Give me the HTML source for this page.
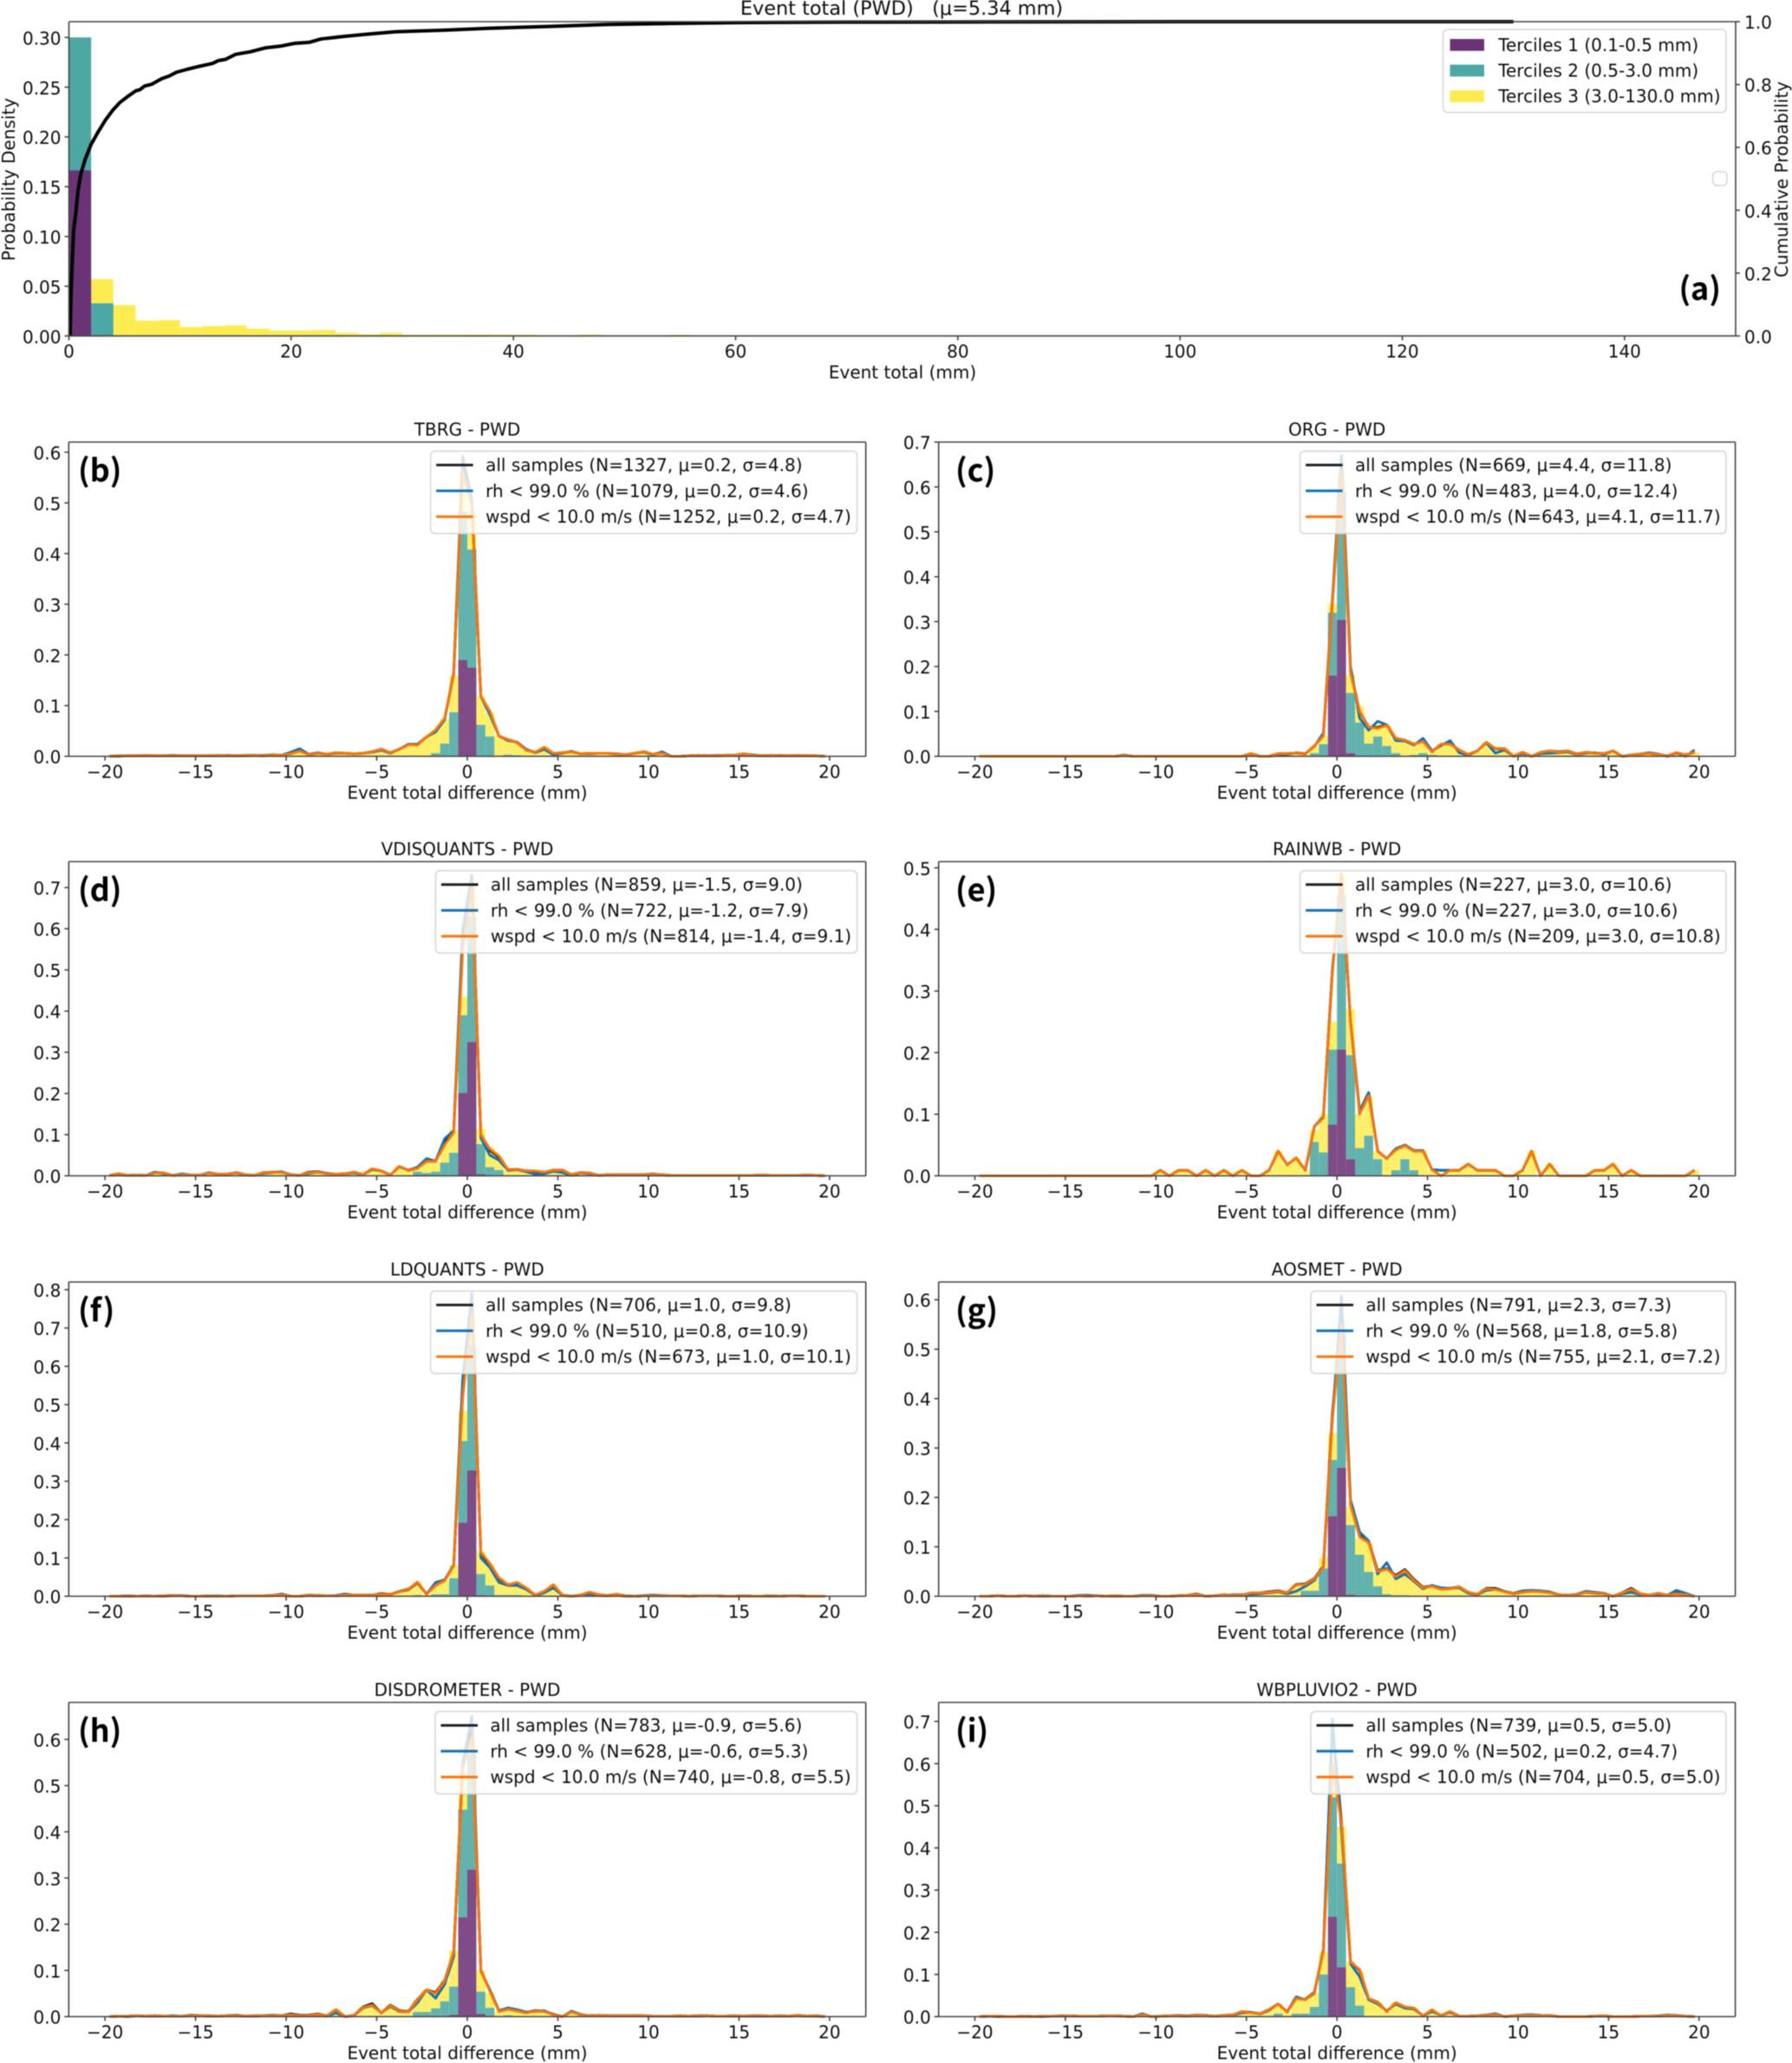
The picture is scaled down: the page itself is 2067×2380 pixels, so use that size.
<!DOCTYPE html>
<html>
<head>
<meta charset="utf-8">
<title>Event total distributions</title>
<style>
html,body{margin:0;padding:0;background:#fff;}
svg{display:block;filter:blur(0.45px);}
text{font-family:"DejaVu Sans","Liberation Sans",sans-serif;fill:#0d0d0d;}
.tag{font-family:"Noto Sans CJK JP","Liberation Sans",sans-serif;font-weight:700;fill:#000;}
</style>
</head>
<body>
<svg id="chart" xmlns="http://www.w3.org/2000/svg" width="2067" height="2380" viewBox="0 0 2067 2380"></svg>
<script>
// ---------- panel (a) data ----------
const eventBinEdgeStart = 0;
const eventBinWidth = 2;
const eventT1 = [.1664,0];
const eventT2 = [.1336,.0328];
const eventT3 = [0,.0244,.031,.0154,.016,.009,.010,.0107,.0073,.0055,.0055,.006,.0032,.002,.0032,.0014,.0014,.0014,.0016,.0014,.0014,.0007,.0007,.0014,.0005,.0005,.0005,.0012];
const cdfTotals = [.1,.2,.42,.61,.82,1.08,1.47,1.99,2.64,3.29,3.94,4.59,5.37,6.02,6.41,6.8,7.46,8.37,9.02,9.67,10.7,11.75,12.92,13.44,14.09,15,16.3,17.73,19.03,20.3,21.6,22.7,24.76,26.8,29.4,33.9,37.8,40.6,42.6,48.4,54,60,70,80,100,130];
const cdfProbs = [0,.15,.334,.389,.462,.517,.563,.609,.65,.687,.718,.743,.764,.78,.784,.795,.801,.819,.827,.839,.849,.858,.867,.876,.88,.896,.904,.917,.922,.931,.934,.945,.953,.96,.968,.973,.979,.982,.984,.991,.994,.997,.9985,.999,1,1];
const eventXTicks = [0,20,40,60,80,100,120,140];
const eventYTicks = ["0.00","0.05","0.10","0.15","0.20","0.25","0.30"];
const cdfYTicks = ["0.0","0.2","0.4","0.6","0.8","1.0"];
const tercileLabels = ["Terciles 1 (0.1-0.5 mm)","Terciles 2 (0.5-3.0 mm)","Terciles 3 (3.0-130.0 mm)"];

// ---------- difference panels: shared axis values ----------
const diffXTicks = [-20,-15,-10,-5,0,5,10,15,20];

// ---------- (b) TBRG ----------
const tbrgAll = [0,.001,.001,.001,.002,.001,.001,.001,.001,.001,
.001,.001,.002,.001,.001,.002,.002,.001,.003,.002,
.006,.012,.003,.006,.004,.007,.006,.005,.006,.009,
.014,.007,.014,.023,.023,.038,.050,.074,.162,.575,
.498,.118,.087,.040,.033,.027,.013,.008,.017,.005,
.007,.009,.005,.006,.006,.006,.004,.003,.006,.009,
.004,.007,0,0,.001,.002,.001,.001,.002,.002,
.005,.002,.001,.002,.001,.001,.002,.001,.001,0];
const tbrgRh = [0,0,.001,.001,.001,.001,.001,.002,.001,.001,
.001,.001,.001,.002,.001,.001,.002,.002,.003,.002,
.008,.015,.004,.007,.004,.006,.006,.005,.006,.008,
.012,.006,.014,.024,.024,.038,.048,.072,.165,.592,
.505,.118,.082,.040,.031,.028,.014,.007,.014,.003,
.006,.010,.005,.005,.006,.006,.005,.003,.006,.008,
.003,.009,0,0,.001,.001,.001,.002,.002,.002,
.004,.003,.001,.001,.002,.001,.001,.001,.001,0];
const tbrgWspd = [0,.001,.001,.001,.002,.001,.001,.001,.001,.001,
.001,.001,.002,.001,.001,.002,.002,.001,.003,.002,
.005,.010,.003,.006,.004,.007,.006,.005,.006,.009,
.014,.007,.014,.023,.022,.038,.052,.075,.160,.563,
.495,.118,.089,.040,.033,.027,.012,.008,.018,.006,
.007,.009,.005,.006,.006,.006,.004,.003,.006,.009,
.004,.006,0,0,.001,.002,.001,.001,.002,.002,
.005,.002,.001,.002,.001,.001,.002,.001,.001,0];
const tbrgT1 = [0,0,0,0,0,0,0,0,0,.190,.175,0,0,0,0,0,0,0,0,0,0,0,0,0];
const tbrgT2 = [0,0,0,0,.001,0,.006,.025,.087,.293,.233,.062,.039,0,.003,.002,0,0,0,0,0,0,0,0];
const tbrgT3 = [0,.001,.001,.001,.002,.001,.001,.001,.001,.001,
.001,.001,.002,.001,.001,.002,.002,.001,.003,.002,
.005,.010,.003,.006,.004,.007,.006,.005,.006,.009,
.014,.007,.014,.023,.021,.038,.046,.048,.072,.077,
.078,.056,.047,.040,.032,.025,.012,.008,.018,.006,
.007,.009,.005,.006,.006,.006,.004,.003,.006,.009,
.004,.006,0,0,.001,.002,.001,.001,.002,.002,
.005,.002,.001,.002,.001,.001,.002,.001,.001,0];
const tbrgYTicks = ["0.0","0.1","0.2","0.3","0.4","0.5","0.6"];
const tbrgLegend = ["all samples (N=1327, μ=0.2, σ=4.8)","rh < 99.0 % (N=1079, μ=0.2, σ=4.6)","wspd < 10.0 m/s (N=1252, μ=0.2, σ=4.7)"];

// ---------- (c) ORG ----------
const orgAll = [0,0,0,0,0,0,0,0,0,0,
0,0,0,0,0,0,.002,0,0,0,
0,0,0,0,0,0,0,0,0,0,
.006,0,0,.006,.006,.007,.005,.023,.046,.345,
.650,.190,.100,.065,.064,.070,.040,.036,.027,.034,
.010,.027,.028,.014,.004,.012,.031,.017,.017,0,
.009,0,.009,.012,.010,.012,.005,.009,.007,.006,
.012,0,.003,.005,.006,.004,.001,.008,.003,.009];
const orgRh = [0,0,0,0,0,0,0,0,0,0,
0,0,0,0,0,0,.003,0,0,0,
0,0,0,0,0,0,0,0,0,0,
.005,0,0,.003,.004,.008,.006,.022,.052,.350,
.670,.200,.085,.058,.078,.070,.035,.034,.025,.040,
.012,.024,.035,.008,.002,.012,.030,.007,.014,0,
.006,0,.006,.007,.008,.010,.003,.007,.008,.004,
.012,0,.002,.005,.008,.005,0,.007,0,.014];
const orgWspd = [0,0,0,0,0,0,0,0,0,0,
0,0,0,0,0,0,.002,0,0,0,
0,0,0,0,0,0,0,0,0,0,
.006,0,0,.006,.006,.007,.005,.023,.046,.340,
.635,.185,.100,.065,.062,.069,.040,.036,.027,.033,
.010,.027,.027,.014,.004,.012,.031,.017,.017,0,
.009,0,.009,.012,.009,.012,.004,.009,.006,.006,
.012,0,.003,.005,.006,.004,.001,.008,.003,.009];
const orgT1 = [0,0,0,0,0,0,0,0,0,.180,.304,.007,0,0,0,0,0,0,0,0,0,0,0,0];
const orgT2 = [0,0,0,0,0,0,.001,.007,.027,.140,.286,.134,.075,.028,.044,.023,.007,0,.003,.007,.003,0,0,0];
const orgT3 = [0,0,0,0,0,0,0,0,0,0,
0,0,0,0,0,0,.002,0,0,0,
0,0,0,0,0,0,0,0,0,0,
.006,0,0,.006,.006,.007,.004,.016,.019,.020,
.038,.041,.036,.037,.028,.046,.033,.036,.024,.026,
.007,.027,.027,.014,.004,.012,.031,.017,.017,0,
.009,0,.009,.012,.009,.012,.004,.009,.006,.006,
.012,0,.003,.005,.006,.004,.001,.008,.003,.009];
const orgYTicks = ["0.0","0.1","0.2","0.3","0.4","0.5","0.6","0.7"];
const orgLegend = ["all samples (N=669, μ=4.4, σ=11.8)","rh < 99.0 % (N=483, μ=4.0, σ=12.4)","wspd < 10.0 m/s (N=643, μ=4.1, σ=11.7)"];

// ---------- (d) VDISQUANTS ----------
const vdisAll = [.001,.005,.001,.002,.001,.008,.007,.001,.004,.002,
.002,.007,.004,.004,.008,.003,.001,.008,.009,.009,
.003,.001,.009,.010,.006,.004,.005,.009,.003,.017,
.012,.002,.023,.013,.018,.038,.035,.082,.108,.570,
.710,.100,.062,.045,.015,.016,.012,.011,.008,.014,
.014,.003,.008,.007,.001,.003,.003,.003,.003,.003,
.004,.003,.001,.001,.001,.001,.001,.001,.001,.001,
.001,.001,.002,.001,.001,.001,.001,.002,.001,0];
const vdisRh = [.001,.003,.001,.002,.001,.009,.005,.001,.005,.002,
.002,.008,.004,.004,.007,.002,.001,.006,.008,.010,
.003,.001,.006,.009,.006,.004,.005,.007,.003,.015,
.012,.002,.022,.014,.021,.042,.036,.090,.110,.600,
.730,.092,.050,.038,.013,.015,.010,.004,.005,.011,
.008,.001,.007,.005,.001,.002,.003,.003,.003,.003,
.005,.002,.001,.001,.001,.001,.001,.001,.001,.001,
.001,.001,.001,.001,.001,.001,.001,.001,.001,0];
const vdisWspd = [.001,.005,.001,.002,.001,.007,.007,.001,.003,.002,
.002,.007,.004,.004,.008,.003,.001,.008,.009,.008,
.003,.001,.008,.009,.005,.004,.005,.009,.003,.017,
.012,.002,.023,.013,.018,.035,.035,.075,.105,.550,
.700,.100,.065,.048,.015,.016,.012,.012,.009,.014,
.014,.003,.008,.007,.001,.003,.003,.003,.003,.003,
.004,.003,.001,.001,.001,.001,.001,.001,.001,.001,
.001,.001,.002,.001,.001,.001,.001,.002,.001,0];
const vdisT1 = [0,0,0,0,0,0,0,0,0,.201,.325,.004,0,0,0,0,0,0,0,0,0,0,0,0];
const vdisT2 = [0,0,0,0,.010,.007,.010,.032,.056,.189,.305,.073,.021,.014,0,0,0,0,0,0,0,0,0,0];
const vdisT3 = [.001,.005,.001,.002,.001,.007,.007,.001,.003,.002,
.002,.007,.004,.004,.008,.003,.001,.008,.009,.008,
.003,.001,.008,.009,.005,.004,.005,.009,.003,.017,
.012,.002,.023,.013,.008,.028,.025,.043,.056,.045,
.090,.037,.049,.032,.014,.016,.012,.012,.009,.014,
.014,.003,.008,.007,.001,.003,.003,.003,.003,.003,
.004,.003,.001,.001,.001,.001,.001,.001,.001,.001,
.001,.001,.002,.001,.001,.001,.001,.002,.001,0];
const vdisYTicks = ["0.0","0.1","0.2","0.3","0.4","0.5","0.6","0.7"];
const vdisLegend = ["all samples (N=859, μ=-1.5, σ=9.0)","rh < 99.0 % (N=722, μ=-1.2, σ=7.9)","wspd < 10.0 m/s (N=814, μ=-1.4, σ=9.1)"];

// ---------- (e) RAINWB ----------
const rainAll = [0,0,0,0,0,0,0,0,0,0,
0,0,0,0,0,0,0,0,0,0,
.009,0,.009,.009,0,.009,0,.009,0,.009,
0,0,.009,.040,.018,.029,.009,.080,.096,.335,
.490,.250,.105,.135,.040,.028,.044,.050,.041,.041,
.010,.009,.009,.009,.019,.009,.009,.009,0,0,
.009,.040,0,.019,0,0,0,0,.009,.009,
.019,0,.009,0,0,0,0,0,0,.009];
const rainRh = [0,0,0,0,0,0,0,0,0,0,
0,0,0,0,0,0,0,0,0,0,
.009,0,.009,.009,0,.009,0,.009,0,.009,
0,0,.009,.040,.018,.029,.009,.080,.096,.335,
.490,.250,.105,.135,.040,.028,.044,.050,.041,.041,
.010,.009,.009,.009,.019,.009,.009,.009,0,0,
.009,.040,0,.019,0,0,0,0,.009,.009,
.019,0,.009,0,0,0,0,0,0,.009];
const rainWspd = [0,0,0,0,0,0,0,0,0,0,
0,0,0,0,0,0,0,0,0,0,
.009,0,.009,.009,0,.009,0,.009,0,.009,
0,0,.009,.040,.018,.029,.009,.080,.094,.330,
.490,.250,.100,.130,.040,.028,.042,.049,.040,.040,
.010,0,.009,.009,.019,.009,.009,.009,0,0,
.009,.040,0,.019,0,0,0,0,.009,.009,
.019,0,.009,0,0,0,0,0,0,.009];
const rainT1 = [0,0,0,0,0,0,0,0,0,.083,.205,.027,0,0,0,0,0,0,0,0,0,0,0,0];
const rainT2 = [0,0,0,0,0,0,0,.055,.038,.122,.251,.169,.045,.065,.027,0,.009,.027,.009,0,0,0,0,0];
const rainT3 = [0,0,0,0,0,0,0,0,0,0,
0,0,0,0,0,0,0,0,0,0,
.009,0,.009,.009,0,.009,0,.009,0,.009,
0,0,.009,.040,.018,.029,.009,.019,.062,.045,
.034,.074,.055,.065,.013,.028,.033,.022,.031,.040,
.010,0,.009,.009,.019,.009,.009,.009,0,0,
.009,.040,0,.019,0,0,0,0,.009,.009,
.019,0,.009,0,0,0,0,0,0,.009];
const rainYTicks = ["0.0","0.1","0.2","0.3","0.4","0.5"];
const rainLegend = ["all samples (N=227, μ=3.0, σ=10.6)","rh < 99.0 % (N=227, μ=3.0, σ=10.6)","wspd < 10.0 m/s (N=209, μ=3.0, σ=10.8)"];

// ---------- (f) LDQUANTS ----------
const ldqAll = [0,0,.001,0,0,0,.001,.002,.001,0,
0,.001,0,0,.001,.001,.001,.001,.002,.004,
0,0,.003,.002,.001,.001,.004,.003,.003,.003,
.007,.005,.012,.017,.035,.006,.030,.041,.080,.540,
.760,.112,.082,.046,.029,.034,.021,.003,.012,.027,
.003,0,.003,.010,.004,.002,.005,.001,0,.001,
.002,.001,.001,.001,0,.001,.001,.001,0,0,
.001,0,0,.001,0,.001,.001,0,0,0];
const ldqRh = [0,0,0,0,.001,0,0,.001,.002,0,
0,0,.001,0,.001,.001,.001,.001,.002,.006,
0,0,.002,.001,.001,.002,.006,.003,.003,.003,
.005,.005,.013,.019,.035,.005,.036,.043,.082,.570,
.790,.100,.075,.036,.028,.028,.018,.002,.009,.022,
.002,0,.002,.006,.002,.001,.003,0,0,.002,
.003,.002,.001,.001,0,.001,.001,.001,0,0,
.001,0,0,0,0,.001,.001,0,0,0];
const ldqWspd = [0,0,.001,0,0,0,.001,.002,.001,0,
0,.001,0,0,.001,.001,.001,.001,.002,.004,
0,0,.003,.002,.001,.001,.003,.003,.003,.003,
.006,.005,.012,.018,.037,.005,.028,.041,.080,.520,
.740,.115,.085,.048,.030,.036,.022,.003,.013,.030,
.003,0,.003,.011,.004,.002,.005,.001,0,.001,
.001,.001,.001,.001,0,.001,.001,.001,0,0,
.001,0,0,.001,0,.001,.001,0,0,0];
const ldqT1 = [0,0,0,0,0,0,0,0,0,.192,.328,.003,0,0,0,0,0,0,0,0,0,0,0,0];
const ldqT2 = [0,0,0,0,.003,0,.005,.005,.047,.213,.326,.055,.028,.003,.003,.003,0,0,0,0,0,0,0,0];
const ldqT3 = [0,0,.001,0,0,0,.001,.002,.001,0,
0,.001,0,0,.001,.001,.001,.001,.002,.004,
0,0,.003,.002,.001,.001,.003,.003,.003,.003,
.006,.005,.012,.018,.034,.005,.023,.036,.034,.079,
.076,.059,.056,.045,.027,.033,.022,.003,.013,.030,
.003,0,.003,.011,.004,.002,.005,.001,0,.001,
.001,.001,.001,.001,0,.001,.001,.001,0,0,
.001,0,0,.001,0,.001,.001,0,0,0];
const ldqYTicks = ["0.0","0.1","0.2","0.3","0.4","0.5","0.6","0.7","0.8"];
const ldqLegend = ["all samples (N=706, μ=1.0, σ=9.8)","rh < 99.0 % (N=510, μ=0.8, σ=10.9)","wspd < 10.0 m/s (N=673, μ=1.0, σ=10.1)"];

// ---------- (g) AOSMET ----------
const aosAll = [0,0,.001,0,0,.001,0,.001,0,0,
0,.001,0,.001,0,.001,0,0,.001,.001,
0,0,.001,.002,.004,0,.001,.003,.002,.002,
.007,.007,.009,.011,.007,.024,.025,.036,.060,.370,
.570,.186,.122,.110,.052,.056,.042,.054,.034,.018,
.021,.015,.016,.019,.008,.004,.016,.016,.010,.005,
.008,.010,.010,.008,.003,.002,.003,.008,.006,.005,
0,.007,.016,.005,.002,.006,.002,.006,.003,0];
const aosRh = [0,0,.001,0,0,.001,0,0,0,0,
0,.002,.002,.001,0,0,0,0,.002,.002,
0,0,.001,.002,.005,0,.001,.002,.003,.003,
.004,.005,.007,.009,.005,.010,.020,.032,.060,.360,
.608,.195,.130,.112,.045,.068,.035,.045,.030,.015,
.022,.017,.016,.017,.006,.003,.012,.014,.010,.006,
.011,.012,.011,.009,.003,.002,.004,.010,.008,.006,
0,.005,.008,.003,.002,.004,.002,.012,.006,0];
const aosWspd = [0,0,.001,0,0,.001,0,.001,0,0,
0,.001,0,.001,0,.001,0,0,.001,.001,
0,0,.001,.002,.004,0,.001,.003,.002,.002,
.007,.007,.008,.010,.007,.023,.024,.035,.058,.360,
.550,.184,.120,.108,.050,.055,.040,.052,.032,.017,
.020,.014,.015,.019,.008,.004,.015,.014,.009,.005,
.008,.010,.009,.007,.003,.002,.003,.008,.006,.005,
0,.007,.014,.005,.002,.006,.002,.005,.003,0];
const aosT1 = [0,0,0,0,0,0,0,0,0,.162,.260,.003,0,0,0,0,0,0,0,0,0,0,0,0];
const aosT2 = [0,0,0,0,0,0,.011,.011,.056,.114,.270,.141,.084,.049,.020,.004,.002,.002,0,0,0,0,0,0];
const aosT3 = [0,0,.001,0,0,.001,0,.001,0,0,
0,.001,0,.001,0,.001,0,0,.001,.001,
0,0,.001,.002,.004,0,.001,.003,.002,.002,
.007,.007,.008,.010,.007,.023,.013,.024,.021,.054,
.020,.037,.033,.059,.030,.048,.038,.050,.032,.017,
.020,.014,.015,.019,.008,.004,.015,.014,.009,.005,
.008,.010,.009,.007,.003,.002,.003,.008,.006,.005,
0,.007,.014,.005,.002,.006,.002,.005,.003,0];
const aosYTicks = ["0.0","0.1","0.2","0.3","0.4","0.5","0.6"];
const aosLegend = ["all samples (N=791, μ=2.3, σ=7.3)","rh < 99.0 % (N=568, μ=1.8, σ=5.8)","wspd < 10.0 m/s (N=755, μ=2.1, σ=7.2)"];

// ---------- (h) DISDROMETER ----------
const disAll = [0,.001,.001,.002,.001,.002,.001,.001,.001,.003,
.002,.002,.001,.002,.003,.001,.002,.002,.003,.002,
.006,.003,.003,.006,.002,.015,0,.003,.021,.028,
.008,.025,.013,.011,.037,.058,.052,.078,.140,.540,
.620,.100,.056,.012,.017,.013,.009,.013,.012,.005,
0,.011,.004,.002,.003,.002,.002,.002,.002,.002,
.001,.001,.001,.002,.001,.002,.002,.001,.001,.002,
.001,.002,.002,.001,.002,.001,.003,.001,.002,0];
const disRh = [0,.001,0,.002,.001,.001,.001,.002,.001,.002,
.002,.001,.001,.002,.002,.001,.001,.002,.002,.002,
.004,.002,.002,.003,.001,.008,0,.002,.019,.024,
.008,.022,.011,.010,.030,.058,.040,.070,.130,.550,
.650,.098,.058,.013,.019,.015,.010,.011,.013,.004,
0,.012,.005,.002,.002,.002,.002,.002,.002,.002,
.001,.001,.001,.001,.001,.001,.002,.001,.001,.001,
.001,.001,.001,.001,.001,.001,.002,.001,.001,0];
const disWspd = [0,.001,.001,.002,.001,.002,.001,.001,.001,.002,
.002,.002,.001,.002,.002,.001,.002,.002,.002,.002,
.004,.002,.002,.005,.002,.015,0,.003,.020,.025,
.008,.024,.012,.010,.036,.058,.050,.077,.140,.537,
.606,.099,.055,.011,.016,.012,.008,.012,.011,.004,
0,.010,.004,.002,.003,.002,.002,.002,.002,.002,
.001,.001,.001,.002,.001,.002,.002,.001,.001,.002,
.001,.002,.002,.001,.002,.001,.003,.001,.002,0];
const disT1 = [0,0,0,0,0,0,0,0,.004,.215,.318,.006,0,0,0,0,0,0,0,0,0,0,0,0];
const disT2 = [0,0,0,0,.010,.010,.018,.033,.061,.233,.252,.048,.019,0,.003,0,0,0,0,0,0,0,0,0];
const disT3 = [0,.001,.001,.002,.001,.002,.001,.001,.001,.002,
.002,.002,.001,.002,.002,.001,.002,.002,.002,.002,
.004,.002,.002,.005,.002,.015,0,.003,.020,.025,
.008,.024,.012,.010,.026,.048,.032,.044,.078,.082,
.040,.046,.033,.011,.013,.012,.008,.012,.011,.004,
0,.010,.004,.002,.003,.002,.002,.002,.002,.002,
.001,.001,.001,.002,.001,.002,.002,.001,.001,.002,
.001,.002,.002,.001,.002,.001,.003,.001,.002,0];
const disYTicks = ["0.0","0.1","0.2","0.3","0.4","0.5","0.6"];
const disLegend = ["all samples (N=783, μ=-0.9, σ=5.6)","rh < 99.0 % (N=628, μ=-0.6, σ=5.3)","wspd < 10.0 m/s (N=740, μ=-0.8, σ=5.5)"];

// ---------- (i) WBPLUVIO2 ----------
const wbpAll = [0,.001,.001,0,0,.001,0,.001,.001,.001,
.002,.001,.001,.001,.002,.002,.001,0,.005,0,
.001,.002,.002,.001,.004,.002,.001,.003,.004,.012,
.010,.007,.017,.030,.011,.044,.041,.058,.156,.690,
.460,.130,.110,.043,.034,.012,.033,.023,.020,.002,
.016,.002,.012,.001,.001,.002,.003,.006,0,.002,
.003,.003,.002,.003,0,0,0,0,.001,.002,
0,0,0,.001,.001,.001,.003,.002,.001,0];
const wbpRh = [0,.001,0,0,0,.001,0,0,.001,.002,
.002,.001,.001,.001,.002,.002,.001,0,.007,0,
.001,.002,.003,.002,.004,.003,.001,.002,.003,.009,
.010,.006,.015,.030,.012,.047,.040,.055,.160,.705,
.440,.125,.095,.040,.030,.014,.030,.020,.018,.002,
.012,.003,.010,.001,.001,.002,.004,.007,0,.002,
.004,.005,.003,.002,0,0,0,0,.001,.001,
0,0,0,.001,.001,.002,.004,.003,.001,0];
const wbpWspd = [0,.001,.001,0,0,.001,0,.001,.001,.001,
.002,.001,.001,.001,.002,.002,.001,0,.005,0,
.001,.002,.002,.001,.004,.002,.001,.003,.004,.012,
.009,.007,.017,.030,.011,.043,.040,.057,.156,.600,
.458,.129,.112,.043,.033,.012,.033,.023,.020,.002,
.016,.002,.012,.001,.001,.002,.003,.005,0,.002,
.003,.003,.002,.003,0,0,0,0,.001,.002,
0,0,0,.001,.001,.001,.003,.002,.001,0];
const wbpT1 = [0,0,0,0,0,0,0,0,0,.237,.117,0,0,0,0,0,0,0,0,0,0,0,0,0];
const wbpT2 = [0,0,0,.007,0,.007,.007,.023,.100,.283,.246,.070,.026,0,0,0,0,0,0,0,0,0,0,0];
const wbpT3 = [0,.001,.001,0,0,.001,0,.001,.001,.001,
.002,.001,.001,.001,.002,.002,.001,0,.005,0,
.001,.002,.002,.001,.004,.002,.001,.003,.004,.012,
.009,.007,.017,.023,.011,.036,.033,.034,.053,.080,
.087,.060,.082,.043,.033,.012,.033,.023,.020,.002,
.016,.002,.012,.001,.001,.002,.003,.005,0,.002,
.003,.003,.002,.003,0,0,0,0,.001,.002,
0,0,0,.001,.001,.001,.003,.002,.001,0];
const wbpYTicks = ["0.0","0.1","0.2","0.3","0.4","0.5","0.6","0.7"];
const wbpLegend = ["all samples (N=739, μ=0.5, σ=5.0)","rh < 99.0 % (N=502, μ=0.2, σ=4.7)","wspd < 10.0 m/s (N=704, μ=0.5, σ=5.0)"];

// ---------- rendering ----------
const NS = "http://www.w3.org/2000/svg";
const svg = document.getElementById("chart");
const FONT = 20;
const YNUDGE = 1.2;
const C_T1 = "#7f4c87", C_T2 = "#64b2ae", C_T3 = "#fdef6a";
const C_T1A = "#693376", C_T2A = "#4da7a3", C_T3A = "#fdec51";
const SPINE = "#444";
const fmtTick = v => (v < 0 ? "\u2212" + Math.abs(v) : String(v));

function mk(tag, attrs, parent) {
  const el = document.createElementNS(NS, tag);
  for (const k in attrs) el.setAttribute(k, attrs[k]);
  (parent || svg).appendChild(el);
  return el;
}
function label(parent, name, str, x, y, anchor, size, extra) {
  const t = mk("text", Object.assign({x: x, y: y, "text-anchor": anchor || "middle", "dominant-baseline": "central", "font-size": size || FONT}, extra || {}), parent);
  t.textContent = str;
  
  
  return t;
}
function seg(parent, name, x1, y1, x2, y2, w, color) {
  const l = mk("line", {x1: x1, y1: y1, x2: x2, y2: y2, stroke: color || SPINE, "stroke-width": w || 1.6}, parent);
  
  
  return l;
}
function bar(parent, name, x0, x1, yTop, yBottom, color) {
  const h = yBottom - yTop;
  if (h <= 0) return;
  const r = mk("rect", {x: x0, y: yTop, width: x1 - x0, height: h, fill: color}, parent);
  
  
}
function polyline(parent, name, xs, ys, color, w) {
  const pts = xs.map((x, i) => x.toFixed(2) + "," + ys[i].toFixed(2)).join(" ");
  const p = mk("polyline", {points: pts, fill: "none", stroke: color, "stroke-width": w, "stroke-linejoin": "round"}, parent);
  
  
}
function legendBox(parent, name, x, y, w, h) {
  const r = mk("rect", {x: x, y: y, width: w, height: h, rx: 5, ry: 5, fill: "rgba(255,255,255,0.8)", stroke: "#d6d6d6", "stroke-width": 1.5}, parent);
  
  
}

// ---------- panel (a) ----------
(function drawEvent() {
  const g = mk("g", {});
  
  
  const L = 79.5, R = 2002, T = 25, B = 387.6;
  const xOf = v => L + (v / 150) * (R - L);
  const yL = v => B - (v / 0.3158) * (B - T);
  const yR = v => B - v * (B - T);

  eventT3.forEach((v, i) => {
    const e0 = eventBinEdgeStart + i * eventBinWidth;
    const base = (eventT1[i] || 0) + (eventT2[i] || 0);
    bar(g, 'tercile-3-bar', xOf(e0), xOf(e0 + eventBinWidth), yL(base + v), yL(base), C_T3A);
  });
  eventT2.forEach((v, i) => {
    const e0 = eventBinEdgeStart + i * eventBinWidth;
    const base = eventT1[i] || 0;
    bar(g, 'tercile-2-bar', xOf(e0), xOf(e0 + eventBinWidth), yL(base + v), yL(base), C_T2A);
  });
  eventT1.forEach((v, i) => {
    const e0 = eventBinEdgeStart + i * eventBinWidth;
    bar(g, 'tercile-1-bar', xOf(e0), xOf(e0 + eventBinWidth), yL(v), yL(0), C_T1A);
  });
  polyline(g, 'cumulative-probability-line', cdfTotals.map(xOf), cdfProbs.map(yR), "#000", 4);

  seg(g, 'left-spine', L, T, L, B);
  seg(g, 'right-spine', R, T, R, B);
  seg(g, 'top-spine', L, T, R, T);
  seg(g, 'bottom-spine', L, B, R, B);
  eventXTicks.forEach(v => {
    seg(g, 'x-tick', xOf(v), B, xOf(v), B + 5);
    label(g, 'x-tick-label', String(v), xOf(v), B + 18);
  });
  eventYTicks.forEach(s => {
    const y = yL(parseFloat(s));
    seg(g, 'y-tick', L - 5, y, L, y);
    label(g, 'y-tick-label', s, L - 9, y + YNUDGE, "end");
  });
  cdfYTicks.forEach(s => {
    const y = yR(parseFloat(s));
    seg(g, 'right-y-tick', R, y, R + 5, y);
    label(g, 'right-y-tick-label', s, R + 10, y + YNUDGE, "start");
  });
  label(g, 'panel-a-title', "Event total (PWD)   (μ=5.34 mm)", 1040, 10, "middle", 22.4, {style: "white-space:pre"});
  label(g, 'x-axis-title', "Event total (mm)", 1041, 429.6);
  label(g, 'y-axis-title', "Probability Density", 0, 0, "middle", FONT, {transform: "translate(10 207) rotate(-90)"});
  label(g, 'right-y-axis-title', "Cumulative Probability", 0, 0, "middle", FONT, {transform: "translate(2055 207) rotate(-90)"});

  legendBox(g, 'tercile-legend', 1664.6, 34, 326.4, 95.7);
  const swatches = [C_T1A, C_T2A, C_T3A];
  tercileLabels.forEach((s, i) => {
    bar(g, 'legend-swatch', 1672.5, 1712, 45 + i * 29.6, 58.7 + i * 29.6, swatches[i]);
    label(g, 'legend-entry', s, 1728.2, 52 + i * 29.6, "start");
  });
  legendBox(g, 'empty-legend', 1975.6, 198, 16.4, 16);
  label(g, 'panel-letter', "(a)", 1960.7, 331, "middle", 36, {class: "tag"});
})();

// ---------- difference panels ----------
const COL_LEFT = {L: 79.3, R: 998.7, legendRight: 988.5, letterX: 90};
const COL_RIGHT = {L: 1082.7, R: 2001.6, legendRight: 1991, letterX: 1102};

function drawDiffPanel(cfg) {
  const col = cfg.col;
  const g = mk("g", {});
  
  
  const L = col.L, R = col.R, T = cfg.top, B = cfg.top + 362.5;
  const xOf = v => L + ((v + 22) / 44) * (R - L);
  const yOf = v => B - (v / cfg.ymax) * (B - T);

  // stacked tercile histogram: bin i spans -20 + 0.5i .. -20 + 0.5(i+1)
  cfg.t3.forEach((v, i) => {
    const e0 = -20 + i * 0.5;
    const j = i - 30;
    const b1 = j >= 0 && j < cfg.t1.length ? cfg.t1[j] : 0;
    const b2 = j >= 0 && j < cfg.t2.length ? cfg.t2[j] : 0;
    bar(g, 'tercile-3-bar', xOf(e0), xOf(e0 + 0.5), yOf(b1 + b2 + v), yOf(b1 + b2), C_T3);
    bar(g, 'tercile-2-bar', xOf(e0), xOf(e0 + 0.5), yOf(b1 + b2), yOf(b1), C_T2);
    bar(g, 'tercile-1-bar', xOf(e0), xOf(e0 + 0.5), yOf(b1), yOf(0), C_T1);
  });

  const xsFor = arr => arr.map((_, i) => xOf(-19.75 + i * 0.5));
  polyline(g, 'all-samples-line', xsFor(cfg.all), cfg.all.map(yOf), "#111", 3);
  polyline(g, 'rh-filter-line', xsFor(cfg.rh), cfg.rh.map(yOf), "#1271b6", 3);
  polyline(g, 'wspd-filter-line', xsFor(cfg.wspd), cfg.wspd.map(yOf), "#fb7508", 3);

  seg(g, 'left-spine', L, T, L, B);
  seg(g, 'right-spine', R, T, R, B);
  seg(g, 'top-spine', L, T, R, T);
  seg(g, 'bottom-spine', L, B, R, B);
  diffXTicks.forEach(v => {
    seg(g, 'x-tick', xOf(v), B, xOf(v), B + 5);
    label(g, 'x-tick-label', fmtTick(v), xOf(v), B + 18);
  });
  cfg.yTicks.forEach(s => {
    const y = yOf(parseFloat(s));
    seg(g, 'y-tick', L - 5, y, L, y);
    label(g, 'y-tick-label', s, L - 9, y + YNUDGE, "end");
  });
  label(g, 'panel-title', cfg.title, (L + R) / 2, T - 14.5);
  label(g, 'x-axis-title', "Event total difference (mm)", (L + R) / 2, B + 42);

  const lx = cfg.legendLeft;
  const ly = T + 10.5;
  legendBox(g, 'panel-legend', lx, ly, col.legendRight - lx, 95);
  const colors = ["#222", "#1271b6", "#fb7508"];
  cfg.legend.forEach((s, i) => {
    const y = ly + 16 + i * 29.8;
    seg(g, 'legend-line-sample', lx + 6.5, y, lx + 49, y, 3, colors[i]);
    label(g, 'legend-entry', s, lx + 63.4, y, "start");
  });
  label(g, 'panel-letter', cfg.letter, col.letterX, T + 30.5, "start", 36, {class: "tag"});
}

drawDiffPanel({name:'panel-b-tbrg', letter:"(b)", title:"TBRG - PWD", col:COL_LEFT, top:510, ymax:.62, legendLeft:496.7, all:tbrgAll, rh:tbrgRh, wspd:tbrgWspd, t1:tbrgT1, t2:tbrgT2, t3:tbrgT3, yTicks:tbrgYTicks, legend:tbrgLegend});
drawDiffPanel({name:'panel-c-org', letter:"(c)", title:"ORG - PWD", col:COL_RIGHT, top:510, ymax:.7, legendLeft:1499.6, all:orgAll, rh:orgRh, wspd:orgWspd, t1:orgT1, t2:orgT2, t3:orgT3, yTicks:orgYTicks, legend:orgLegend});
drawDiffPanel({name:'panel-d-vdisquants', letter:"(d)", title:"VDISQUANTS - PWD", col:COL_LEFT, top:994, ymax:.763, legendLeft:502.5, all:vdisAll, rh:vdisRh, wspd:vdisWspd, t1:vdisT1, t2:vdisT2, t3:vdisT3, yTicks:vdisYTicks, legend:vdisLegend});
drawDiffPanel({name:'panel-e-rainwb', letter:"(e)", title:"RAINWB - PWD", col:COL_RIGHT, top:994, ymax:.51, legendLeft:1499.6, all:rainAll, rh:rainRh, wspd:rainWspd, t1:rainT1, t2:rainT2, t3:rainT3, yTicks:rainYTicks, legend:rainLegend});
drawDiffPanel({name:'panel-f-ldquants', letter:"(f)", title:"LDQUANTS - PWD", col:COL_LEFT, top:1479, ymax:.82, legendLeft:496.7, all:ldqAll, rh:ldqRh, wspd:ldqWspd, t1:ldqT1, t2:ldqT2, t3:ldqT3, yTicks:ldqYTicks, legend:ldqLegend});
drawDiffPanel({name:'panel-g-aosmet', letter:"(g)", title:"AOSMET - PWD", col:COL_RIGHT, top:1479, ymax:.636, legendLeft:1512, all:aosAll, rh:aosRh, wspd:aosWspd, t1:aosT1, t2:aosT2, t3:aosT3, yTicks:aosYTicks, legend:aosLegend});
drawDiffPanel({name:'panel-h-disdrometer', letter:"(h)", title:"DISDROMETER - PWD", col:COL_LEFT, top:1964, ymax:.68, legendLeft:502, all:disAll, rh:disRh, wspd:disWspd, t1:disT1, t2:disT2, t3:disT3, yTicks:disYTicks, legend:disLegend});
drawDiffPanel({name:'panel-i-wbpluvio2', letter:"(i)", title:"WBPLUVIO2 - PWD", col:COL_RIGHT, top:1964, ymax:.745, legendLeft:1512, all:wbpAll, rh:wbpRh, wspd:wbpWspd, t1:wbpT1, t2:wbpT2, t3:wbpT3, yTicks:wbpYTicks, legend:wbpLegend});
</script>
</body>
</html>
